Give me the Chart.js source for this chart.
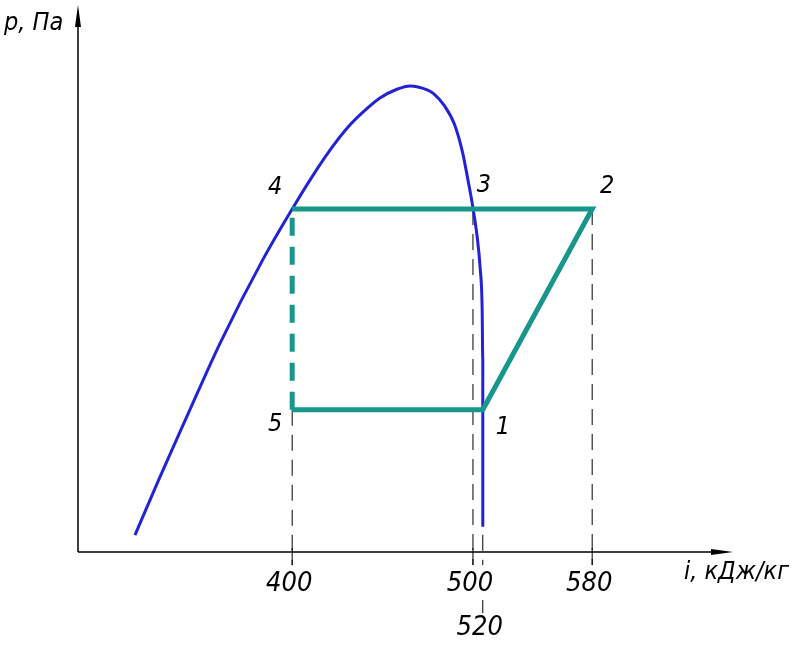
<!DOCTYPE html>
<html lang="ru">
  <head>
    <meta charset="UTF-8" />
    <title>p-i диаграмма</title>
    <script src="https://cdn.jsdelivr.net/npm/chart.js"></script>
    <style>
      html, body { margin: 0; padding: 0; background: #fff; }
      #chart { display: block; }
    </style>
  </head>
  <body>
    <canvas id="chart" width="802" height="647"></canvas>

    <script>
      // schematic diagram units: both axes run 0..100 (the drawing is not to scale)
      const pointNames = ["1", "2", "3", "4", "5"];
      const pointI = [61.8, 78.5, 60.3, 32.7, 32.7];
      const pointP = [26.0, 62.7, 62.7, 62.7, 26.0];

      // saturation curve
      const curveI = [8.7, 12.5, 16.6, 21.7, 28.2, 32.8, 35.9, 38.5, 41.1, 43.5, 46.1, 48.7, 50.7, 53.3, 54.2, 56.0, 57.5, 58.7, 59.6, 60.3, 60.9, 61.4, 61.7, 61.8, 61.8, 61.8, 61.8];
      const curveP = [3.1, 13.7, 24.7, 38.2, 53.4, 62.9, 68.9, 73.5, 77.5, 80.4, 83.0, 84.6, 85.2, 84.5, 83.9, 81.5, 78.1, 73.1, 67.6, 62.9, 58.0, 51.9, 44.6, 35.1, 26.0, 15.0, 4.6];

      // enthalpy labels on the i axis, kJ/kg
      const tickPos = [32.7, 60.3, 61.8, 78.5];
      const tickLabels = ["400", "500", "520", "580"];

      const TEAL = "#17968b";
      const BLUE = "#2222d6";
      const FONT = '"Liberation Sans Narrow", "DejaVu Sans Condensed", sans-serif';

      const pt = (k) => ({ x: pointI[k], y: pointP[k] });
      const idx = (name) => pointNames.indexOf(name);

      const curve = curveI.map((v, k) => ({ x: v, y: curveP[k] }));
      const cycle = ["4", "3", "2", "1", "5"].map((n) => pt(idx(n)));
      const throttle = ["5", "4"].map((n) => pt(idx(n)));

      // thin dashed drop lines from the cycle points to below the i axis
      const dropLines = ["5", "3", "1", "2"].map((n) => {
        const k = idx(n);
        return {
          data: [{ x: pointI[k], y: pointP[k] }, { x: pointI[k], y: -2.4 }],
          borderColor: "#000",
          borderWidth: 1,
          borderDash: [16, 9],
          pointRadius: 0,
          showLine: true,
          clip: false,
          order: 3,
        };
      });

      const pointLabelOffset = { 1: [20, 18], 2: [15, -23], 3: [11, -24], 4: [-17, -22], 5: [-17, 15] };

      const drawing = {
        id: "drawing",
        afterDatasetsDraw(chart) {
          const { ctx } = chart;
          const x = chart.scales.x, y = chart.scales.y;
          const x0 = x.getPixelForValue(0), y0 = y.getPixelForValue(0);
          const xEnd = x.getPixelForValue(100), yEnd = y.getPixelForValue(100);

          ctx.save();
          ctx.strokeStyle = "#000";
          ctx.fillStyle = "#000";
          ctx.lineWidth = 1.5;

          ctx.beginPath();
          ctx.moveTo(x0, y0);
          ctx.lineTo(xEnd - 10, y0);
          ctx.moveTo(x0, y0);
          ctx.lineTo(x0, yEnd + 10);
          ctx.stroke();

          // arrow heads
          ctx.beginPath();
          ctx.moveTo(xEnd, y0);
          ctx.lineTo(xEnd - 22, y0 - 3);
          ctx.lineTo(xEnd - 22, y0 + 3);
          ctx.closePath();
          ctx.moveTo(x0, yEnd);
          ctx.lineTo(x0 - 3, yEnd + 22);
          ctx.lineTo(x0 + 3, yEnd + 22);
          ctx.closePath();
          ctx.fill();

          // ticks and labels
          ctx.lineWidth = 1;
          ctx.font = "italic 27px " + FONT;
          ctx.textAlign = "center";
          ctx.textBaseline = "middle";
          tickPos.forEach((v, k) => {
            const px = x.getPixelForValue(v);
            ctx.beginPath();
            if (tickLabels[k] === "520") {
              ctx.moveTo(px, y0 + 48);
              ctx.lineTo(px, y0 + 61);
              ctx.stroke();
              ctx.fillText(tickLabels[k], px - 3, y0 + 76);
            } else {
              ctx.moveTo(px, y0 - 4);
              ctx.lineTo(px, y0 + 13);
              ctx.stroke();
              ctx.fillText(tickLabels[k], px - 3, y0 + 32);
            }
          });

          // cycle point numbers
          ctx.font = "italic 25px " + FONT;
          pointNames.forEach((n, k) => {
            const [dx, dy] = pointLabelOffset[n];
            ctx.fillText(n, x.getPixelForValue(pointI[k]) + dx, y.getPixelForValue(pointP[k]) + dy);
          });

          // axis titles
          ctx.textAlign = "left";
          ctx.font = "italic 25px " + FONT;
          ctx.fillText("p, Па", 4, 23);
          ctx.fillText("i, кДж/кг", xEnd - 49, y0 + 20);
          ctx.restore();
        },
      };

      new Chart(document.getElementById("chart"), {
        type: "scatter",
        data: {
          datasets: [
            {
              data: cycle,
              borderColor: TEAL,
              borderWidth: 5,
              pointRadius: 0,
              showLine: true,
              clip: false,
              order: 1,
            },
            {
              data: throttle,
              borderColor: TEAL,
              borderWidth: 5,
              borderDash: [18, 11],
              pointRadius: 0,
              showLine: true,
              clip: false,
              order: 1,
            },
            {
              data: curve,
              borderColor: BLUE,
              borderWidth: 3,
              pointRadius: 0,
              showLine: true,
              cubicInterpolationMode: "monotone",
              tension: 0.4,
              clip: false,
              order: 2,
            },
            ...dropLines,
          ],
        },
        options: {
          responsive: false,
          animation: false,
          layout: { padding: { left: 78, right: 69, top: 5, bottom: 95 } },
          scales: {
            x: { type: "linear", min: 0, max: 100, display: false },
            y: { type: "linear", min: 0, max: 100, display: false },
          },
          plugins: {
            legend: { display: false },
            tooltip: { enabled: false },
          },
        },
        plugins: [drawing],
      });
    </script>
  </body>
</html>
